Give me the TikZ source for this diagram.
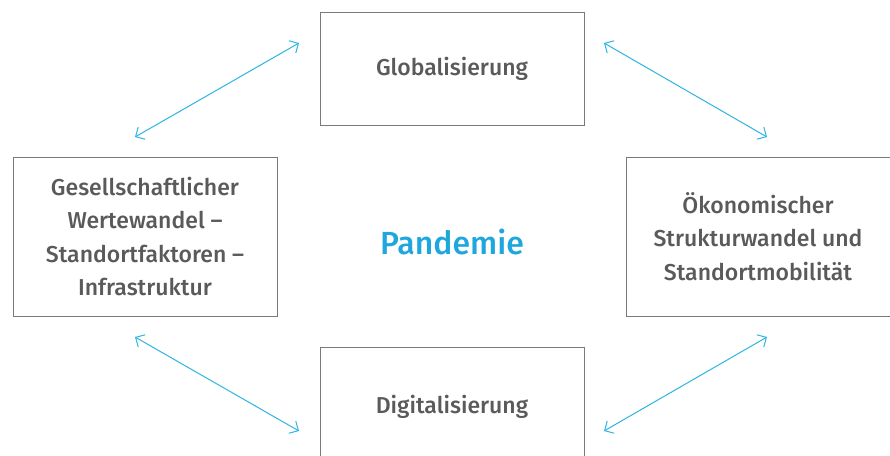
\documentclass[tikz,border=0pt]{standalone}
\usepackage{fontspec}
\setmainfont{Fira Sans}[BoldFont={* Medium}]
\usetikzlibrary{arrows.meta}
\definecolor{boxline}{HTML}{7A7A7A}
\definecolor{boxtext}{HTML}{5A5A5A}
\definecolor{accent}{HTML}{1EA7DC}
\definecolor{linkline}{HTML}{2DB4E3}
\begin{document}
\begin{tikzpicture}[x=1pt,y=-1pt,
  topicbox/.style={draw=boxline,line width=0.9pt,fill=white,inner sep=0pt,
    text=boxtext,font=\fontsize{23}{33.5}\selectfont\bfseries,align=center},
  link/.style={linkline,line width=1pt,
    {Straight Barb[length=7pt,width=14pt,line width=1pt]}-{Straight Barb[length=7pt,width=14pt,line width=1pt]}}
]
\useasboundingbox (0,0) rectangle (890,455);
% the four topic boxes around the centre
\node[topicbox,minimum width=264pt,minimum height=113pt] (glob) at (452,68.5) {Globalisierung};
\node[topicbox,minimum width=264pt,minimum height=159pt] (gesell) at (145,236.5)
  {Gesellschaftlicher\\Wertewandel –\\Standortfaktoren –\\Infrastruktur};
\node[topicbox,minimum width=264pt,minimum height=159pt] (oeko) at (758,236.5)
  {Ökonomischer\\Strukturwandel und\\Standortmobilität};
\node[topicbox,minimum width=264pt,minimum height=120pt] (digi) at (452,407) {Digitalisierung};
% centre label
\node[text=accent,font=\fontsize{32}{34}\selectfont\bfseries] (pan) at (452,242) {Pandemie};
% double-headed links between neighbouring boxes
\coordinate (a1) at (135,137); \coordinate (a2) at (299,43);
\coordinate (b1) at (604,43);  \coordinate (b2) at (767,137);
\coordinate (c1) at (135,337); \coordinate (c2) at (299,431);
\coordinate (d1) at (604,431); \coordinate (d2) at (767,337);
\draw[link] (a1) -- (a2);
\draw[link] (b1) -- (b2);
\draw[link] (c1) -- (c2);
\draw[link] (d1) -- (d2);
\end{tikzpicture}
\end{document}
